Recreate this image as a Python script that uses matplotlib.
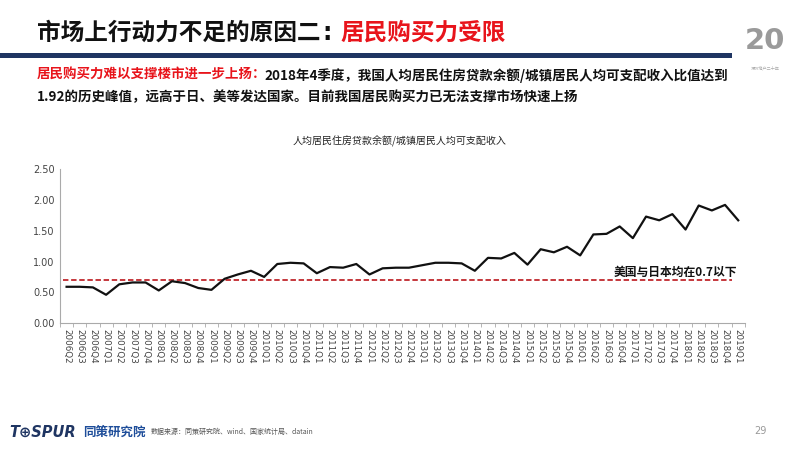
import matplotlib
matplotlib.use("Agg")
import matplotlib.pyplot as plt
from matplotlib.patches import Rectangle

plt.rcParams['font.family'] = ['Noto Sans CJK SC', 'DejaVu Sans']

quarters = ['2006Q2', '2006Q3', '2006Q4'] + \
    [f'{y}Q{q}' for y in range(2007, 2019) for q in range(1, 5)] + ['2019Q1']
ratio = [0.59, 0.59, 0.58, 0.46, 0.63, 0.66, 0.66, 0.53, 0.68, 0.65,
         0.57, 0.54, 0.72, 0.79, 0.85, 0.75, 0.96, 0.98, 0.97, 0.81,
         0.91, 0.90, 0.96, 0.79, 0.89, 0.90, 0.90, 0.94, 0.98, 0.98,
         0.97, 0.85, 1.06, 1.05, 1.14, 0.95, 1.20, 1.15, 1.24, 1.10,
         1.44, 1.45, 1.57, 1.38, 1.73, 1.67, 1.77, 1.52, 1.91, 1.83,
         1.92, 1.67]
ref_level = 0.7
yticks = [0.0, 0.5, 1.0, 1.5, 2.0, 2.5]

fig = plt.figure(figsize=(8, 4.5), dpi=100)
fig.patch.set_facecolor('white')

# Header
fig.text(0.046, 0.927, '市场上行动力不足的原因二', fontsize=17, fontweight='bold',
         color='#111111', ha='left', va='center')
fig.text(0.409, 0.927, ':', fontsize=17, fontweight='bold',
         color='#111111', ha='center', va='center', family=['DejaVu Sans'])
fig.text(0.425, 0.927, '居民购买力受限', fontsize=17, fontweight='bold',
         color='#E8141B', ha='left', va='center')
fig.patches.append(Rectangle((0, 0.871), 0.915, 0.012, transform=fig.transFigure,
                             facecolor='#1F3562', edgecolor='none'))
fig.text(0.046, 0.833, '居民购买力难以支撑楼市进一步上扬：', fontsize=9.7, fontweight='bold',
         color='#E8141B', ha='left', va='center')
fig.text(0.331, 0.833, '2018年4季度，我国人均居民住房贷款余额/城镇居民人均可支配收入比值达到',
         fontsize=9.7, fontweight='bold', color='#111111', ha='left', va='center')
fig.text(0.046, 0.784, '1.92的历史峰值，远高于日、美等发达国家。目前我国居民购买力已无法支撑市场快速上扬',
         fontsize=9.7, fontweight='bold', color='#111111', ha='left', va='center')

# Logo
fig.text(0.956, 0.908, '20', fontsize=21, fontweight='bold', color='#9A9A9A',
         ha='center', va='center', family=['DejaVu Sans'])
fig.text(0.956, 0.85, '深圳地产二十年', fontsize=3, color='#AAAAAA', ha='center', va='center')

# Chart
ax = fig.add_axes([0.075, 0.282, 0.856, 0.342])
x = list(range(len(quarters)))
ax.plot(x, ratio, color='#111111', linewidth=1.6, zorder=3)
ax.plot([-0.3, len(quarters) - 1.5], [ref_level, ref_level], color='#C0282D',
        linestyle=(0, (3, 1.5)), linewidth=1.3, zorder=2)
ax.text(len(quarters) - 1.1, ref_level + 0.13, '美国与日本均在0.7以下', fontsize=8.5,
        fontweight='bold', color='#111111', ha='right', va='center')

ax.set_xlim(-0.5, len(quarters) - 0.5)
ax.set_ylim(0, 2.5)
ax.set_yticks(yticks)
ax.set_yticklabels([f'{v:.2f}' for v in yticks], fontsize=7, color='#444444',
                   family=['DejaVu Sans'])
ax.set_xticks(x)
ax.set_xticklabels(quarters, rotation=-90, fontsize=6.3, color='#444444',
                   family=['DejaVu Sans'])
ax.set_xticks([i - 0.5 for i in range(len(quarters) + 1)], minor=True)
ax.tick_params(axis='x', which='major', length=0, pad=4)
ax.tick_params(axis='x', which='minor', length=3, color='#AAAAAA')
ax.tick_params(axis='y', length=0, pad=4)
for s in ['top', 'right']:
    ax.spines[s].set_visible(False)
for s in ['left', 'bottom']:
    ax.spines[s].set_color('#AAAAAA')
    ax.spines[s].set_linewidth(0.8)

fig.text(0.499, 0.685, '人均居民住房贷款余额/城镇居民人均可支配收入', fontsize=7.2,
         color='#222222', ha='center', va='center')

# Footer
fig.text(0.012, 0.04, 'T⊕SPUR', fontsize=10.5, fontweight='bold', style='italic',
         color='#1F3562', ha='left', va='center', family=['DejaVu Sans'])
fig.text(0.104, 0.04, '同策研究院', fontsize=9, fontweight='bold',
         color='#1F4E9A', ha='left', va='center')
fig.text(0.188, 0.04, '数据来源：同策研究院、wind、国家统计局、datain', fontsize=5,
         color='#555555', ha='left', va='center')
fig.text(0.95, 0.042, '29', fontsize=7, color='#999999', ha='center', va='center',
         family=['DejaVu Sans'])

fig.savefig('out.png', dpi=100, facecolor='white')
